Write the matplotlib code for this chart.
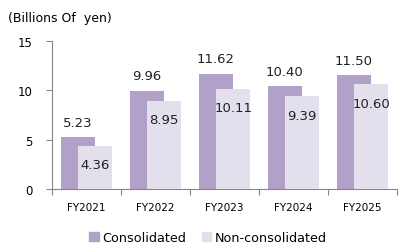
import numpy as np
import matplotlib
matplotlib.use("Agg")
import matplotlib.pyplot as plt
from matplotlib.patches import Patch

years = ["FY2021", "FY2022", "FY2023", "FY2024", "FY2025"]
consolidated = [5.23, 9.96, 11.62, 10.40, 11.50]
non_consolidated = [4.36, 8.95, 10.11, 9.39, 10.60]

c_cons = "#b1a0c8"
c_non = "#e4dfec"
axis_col = "#868686"

plt.rcParams['font.family'] = ['Verdana', 'DejaVu Sans']

fig = plt.figure(figsize=(4.08, 2.51), dpi=100)
ax = fig.add_axes([0.1275, 0.243, 0.8455, 0.59])

x = np.arange(len(years))
w = 0.5
ax.bar(x - 0.125, consolidated, w, color=c_cons, zorder=2)
ax.bar(x + 0.125, non_consolidated, w, color=c_non, zorder=3)

# labels: consolidated above the bar, non-consolidated just inside the top
for xi, v in zip(x, consolidated):
    ax.text(xi - 0.125, v + 1.55, f"{v:.2f}", ha="center", va="center", fontsize=9.5, color="#222222")
for xi, v in zip(x, non_consolidated):
    ax.text(xi + 0.125, v - 1.9, f"{v:.2f}", ha="center", va="center", fontsize=9.5, color="#222222", zorder=4)

ax.set_xlim(-0.5, len(years) - 0.5)
ax.set_ylim(0, 15)
ax.set_yticks([0, 5, 10, 15])
ax.tick_params(axis="y", length=4, color=axis_col, labelsize=8.5, pad=10)
ax.set_xticks(np.arange(-0.5, len(years)), minor=False)
ax.set_xticklabels([])
ax.set_xticks(x, minor=True)
ax.set_xticklabels(years, minor=True, fontsize=7.5)
ax.tick_params(axis="x", which="major", length=4, color=axis_col)
ax.tick_params(axis="x", which="minor", length=0, pad=9)

for s in ["top", "right"]:
    ax.spines[s].set_visible(False)
ax.spines["left"].set_color(axis_col)
ax.spines["bottom"].set_color(axis_col)

fig.text(0.02, 0.928, "(Billions Of  yen)", fontsize=9, ha="left", va="center")

handles = [Patch(color=c_cons, label="Consolidated"), Patch(color=c_non, label="Non-consolidated")]
fig.legend(handles=handles, loc="center", bbox_to_anchor=(0.51, 0.05), ncol=2, frameon=False,
           fontsize=9.2, handlelength=0.75, handleheight=0.75, handletextpad=0.3, columnspacing=1.2)

fig.savefig("out.png", dpi=100)
